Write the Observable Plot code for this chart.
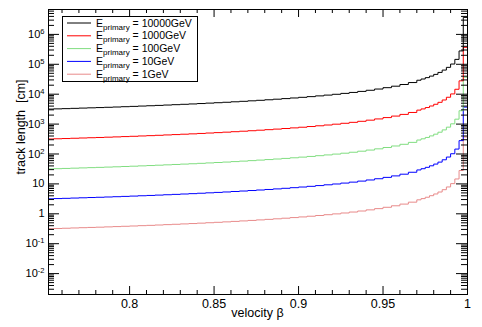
<!DOCTYPE html>
<html><head><meta charset="utf-8">
<script src="https://cdn.jsdelivr.net/npm/d3@7"></script>
<script src="https://cdn.jsdelivr.net/npm/@observablehq/plot@0.6"></script>
<style>body{margin:0;background:#fff} svg{font-family:"Liberation Sans",Arial,sans-serif}</style>
</head><body><div id="chart"></div><script>
// bin edges in velocity beta
const betaEdges = [0.75,0.755,0.76,0.765,0.77,0.775,0.78,0.785,0.79,0.795,
  0.80,0.805,0.81,0.815,0.82,0.825,0.83,0.835,0.84,0.845,
  0.85,0.855,0.86,0.865,0.87,0.875,0.88,0.885,0.89,0.895,
  0.90,0.905,0.91,0.915,0.92,0.925,0.93,0.935,0.94,0.945,
  0.95,0.955,0.96,0.965,0.97,
  0.9725,0.975,0.9775,0.98,0.9825,0.985,0.9875,0.99,0.9925,0.995,0.9975,1.0];
// track length [cm] per bin, one list per primary energy
const len1GeV = [0.317,0.323,0.329,0.336,0.343,0.350,0.357,0.365,0.373,0.382,
  0.391,0.401,0.411,0.422,0.434,0.446,0.459,0.472,0.487,0.503,
  0.519,0.537,0.557,0.578,0.600,0.625,0.651,0.680,0.712,0.747,
  0.786,0.829,0.878,0.932,0.993,1.064,1.145,1.240,1.353,1.488,
  1.651,1.852,2.11,2.45,
  2.93,3.22,3.58,4.03,4.6,5.35,6.4,7.9,10.2,14.6,28,370];
const len10GeV = [3.17,3.23,3.29,3.36,3.43,3.50,3.57,3.65,3.73,3.82,
  3.91,4.01,4.11,4.22,4.34,4.46,4.59,4.72,4.87,5.03,
  5.19,5.37,5.57,5.78,6.00,6.25,6.51,6.80,7.12,7.47,
  7.86,8.29,8.78,9.32,9.93,10.64,11.45,12.40,13.53,14.88,
  16.51,18.52,21.1,24.5,
  29.3,32.2,35.8,40.3,46,53.5,64,79,102,146,280,3700];
const len100GeV = [31.7,32.3,32.9,33.6,34.3,35.0,35.7,36.5,37.3,38.2,
  39.1,40.1,41.1,42.2,43.4,44.6,45.9,47.2,48.7,50.3,
  51.9,53.7,55.7,57.8,60.0,62.5,65.1,68.0,71.2,74.7,
  78.6,82.9,87.8,93.2,99.3,106.4,114.5,124.0,135.3,148.8,
  165.1,185.2,211,245,
  293,322,358,403,460,535,640,790,1020,1460,2800,37000];
const len1000GeV = [317,323,329,336,343,350,357,365,373,382,
  391,401,411,422,434,446,459,472,487,503,
  519,537,557,578,600,625,651,680,712,747,
  786,829,878,932,993,1064,1145,1240,1353,1488,
  1651,1852,2110,2450,
  2930,3220,3580,4030,4600,5350,6400,7900,10200,14600,28000,370000];
const len10000GeV = [3170,3230,3290,3360,3430,3500,3570,3650,3730,3820,
  3910,4010,4110,4220,4340,4460,4590,4720,4870,5030,
  5190,5370,5570,5780,6000,6250,6510,6800,7120,7470,
  7860,8290,8780,9320,9930,10640,11450,12400,13530,14880,
  16510,18520,21100,24500,
  29300,32200,35800,40300,46000,53500,64000,79000,102000,146000,280000,3700000];

const seriesNames = ["10000GeV","1000GeV","100GeV","10GeV","1GeV"];
const seriesValues = [len10000GeV,len1000GeV,len100GeV,len10GeV,len1GeV];
const seriesColors = ["#000000","#ff0000","#80dd80","#0000ff","#e88a8a"];

const xMajor = [0.8,0.85,0.9,0.95,1.0];
const xMajorLabels = ["0.8","0.85","0.9","0.95","1"];
const xMinor = [0.76,0.77,0.78,0.79,0.81,0.82,0.83,0.84,0.86,0.87,0.88,0.89,0.91,0.92,0.93,0.94,0.96,0.97,0.98,0.99];
const yMajor = [1e-2,1e-1,1,10,1e2,1e3,1e4,1e5,1e6];
const yMajorLabels = ["10^-2","10^-1","1","10","10^2","10^3","10^4","10^5","10^6"];
const yMinorFactors = [2,3,4,5,6,7,8,9];

const W=482,H=327,mL=48,mR=15,mT=9,mB=33;
const fw=W-mL-mR, fh=H-mT-mB;
const yDomain=[0.002,6.8e6];
const yMinor=[];
for(let e=-3;e<=6;e++) for(const k of yMinorFactors){const v=k*Math.pow(10,e); if(v>yDomain[0]&&v<yDomain[1]) yMinor.push(v);}

function rowsFor(vals){
  const r = vals.map((v,i)=>({x:betaEdges[i],y:v}));
  r.push({x:betaEdges[betaEdges.length-1], y:vals[vals.length-1]});
  return r;
}

const lineMarks = seriesValues.map((vals,i)=>Plot.line(rowsFor(vals),{x:"x",y:"y",curve:"step-after",stroke:seriesColors[i],strokeWidth:1,clip:true})).reverse();

const chart = Plot.plot({
  width:W,height:H,marginLeft:mL,marginRight:mR,marginTop:mT,marginBottom:mB,
  style:{fontFamily:'"Liberation Sans",Arial,sans-serif',background:"#fff"},
  x:{domain:[0.752,1],axis:null},
  y:{type:"log",domain:yDomain,axis:null},
  marks:[
    ...lineMarks,
    Plot.ruleX(xMajor,{x:d=>d,insetTop:fh-8,stroke:"black"}),
    Plot.ruleX(xMinor,{x:d=>d,insetTop:fh-4,stroke:"black"}),
    Plot.ruleX(xMajor,{x:d=>d,insetBottom:fh-8,stroke:"black"}),
    Plot.ruleX(xMinor,{x:d=>d,insetBottom:fh-4,stroke:"black"}),
    Plot.ruleY(yMajor,{y:d=>d,insetRight:fw-11,stroke:"black"}),
    Plot.ruleY(yMinor,{y:d=>d,insetRight:fw-6,stroke:"black"}),
    Plot.ruleY(yMajor,{y:d=>d,insetLeft:fw-11,stroke:"black"}),
    Plot.ruleY(yMinor,{y:d=>d,insetLeft:fw-6,stroke:"black"}),
    Plot.frame({stroke:"black"}),
    Plot.text(xMajor,{x:d=>d,text:(d,i)=>xMajorLabels[i],frameAnchor:"bottom",dy:9,lineAnchor:"middle",fontSize:12.5,fill:"black"}),
    Plot.text(yMajor,{y:d=>d,text:(d,i)=>yMajorLabels[i],frameAnchor:"left",dx:-4,textAnchor:"end",lineAnchor:"middle",fontSize:11,fill:"black"})
  ]
});
document.getElementById("chart").appendChild(chart);
const svg = d3.select(chart);
svg.selectAll("text").each(function(){
  const t=this.textContent;
  if(t.includes("^")){
    const [base,exp]=t.split("^");
    const el=d3.select(this); el.text(null);
    el.append("tspan").text(base);
    el.append("tspan").attr("dy","-0.5em").attr("font-size","7.5px").text(exp);
  }
});
// axis titles
svg.append("text").attr("x",(mL+W-mR)/2).attr("y",317).attr("text-anchor","middle")
  .attr("font-size","12.5px").attr("fill","black").text("velocity β");
svg.append("text").attr("transform","translate(25,127) rotate(-90)").attr("text-anchor","middle")
  .attr("font-size","12.5px").attr("fill","black").attr("xml:space","preserve").text("track length  [cm]");
// legend
const lg = svg.append("g");
lg.append("rect").attr("x",62.5).attr("y",16.5).attr("width",135).attr("height",65).attr("fill","white").attr("stroke","black");
seriesNames.forEach((n,i)=>{
  const cy = 23 + i*12.8;
  lg.append("line").attr("x1",67).attr("x2",91).attr("y1",cy).attr("y2",cy).attr("stroke",seriesColors[i]);
  const t = lg.append("text").attr("x",96).attr("y",cy+3.5).attr("text-anchor","start").attr("font-size","10.5px").attr("fill","black");
  t.append("tspan").text("E");
  t.append("tspan").attr("dy","3").attr("font-size","8px").text("primary");
  t.append("tspan").attr("dy","-3").text(" = "+n);
});
</script></body></html>
